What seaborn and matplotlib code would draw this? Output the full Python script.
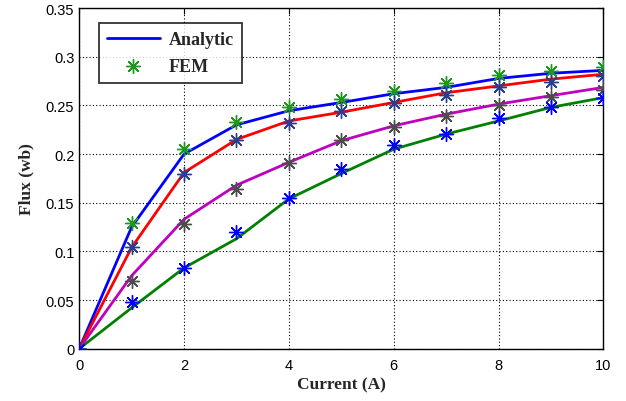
import numpy as np
import pandas as pd
import matplotlib
matplotlib.use("Agg")
import matplotlib.pyplot as plt
import seaborn as sns

# data
current = [0, 1, 2, 3, 4, 5, 6, 7, 8, 9, 10]

analytic_1 = [0, 0.125, 0.200, 0.230, 0.2445, 0.253, 0.262, 0.2685, 0.2777, 0.283, 0.286]
fem_1 = [0, 0.129, 0.205, 0.233, 0.248, 0.2565, 0.265, 0.273, 0.281, 0.285, 0.289]

analytic_2 = [0, 0.104, 0.181, 0.215, 0.234, 0.243, 0.253, 0.263, 0.270, 0.277, 0.282]
fem_2 = [0, 0.105, 0.180, 0.214, 0.232, 0.244, 0.252, 0.261, 0.2685, 0.274, 0.280]

analytic_3 = [0, 0.075, 0.133, 0.168, 0.1915, 0.2137, 0.229, 0.241, 0.2513, 0.260, 0.2685]
fem_3 = [0, 0.070, 0.128, 0.164, 0.191, 0.2144, 0.2274, 0.2393, 0.2506, 0.2588, 0.266]

analytic_4 = [0, 0.042, 0.083, 0.113, 0.154, 0.180, 0.205, 0.2205, 0.234, 0.248, 0.258]
fem_4 = [0, 0.0485, 0.0826, 0.120, 0.155, 0.185, 0.209, 0.221, 0.2366, 0.248, 0.258]

line_colors = ["#0000ff", "#ff0000", "#bf00bf", "#008000"]
marker_colors = ["#1f961f", "#2b3d8f", "#4d4d4d", "#0000ff"]

sns.set_style("white")
plt.rcParams["font.family"] = ["Liberation Sans", "DejaVu Sans"]

fig = plt.figure(figsize=(6.26, 4.02), dpi=100)
ax = fig.add_axes([0.1265, 0.130, 0.8375, 0.8475])

series = [(analytic_1, fem_1), (analytic_2, fem_2),
          (analytic_3, fem_3), (analytic_4, fem_4)]

asterisk = (8, 2, 0)

for i, (ana, fem) in enumerate(series):
    df = pd.DataFrame({"Current": current, "Analytic": ana, "FEM": fem})
    sns.lineplot(data=df, x="Current", y="Analytic", ax=ax,
                 color=line_colors[i], linewidth=2.0,
                 label="Analytic" if i == 0 else "_nolegend_")
    sns.scatterplot(data=df, x="Current", y="FEM", ax=ax,
                    marker=asterisk, s=100, color=marker_colors[i],
                    edgecolor=marker_colors[i], linewidth=1.0,
                    label="FEM" if i == 0 else "_nolegend_", zorder=3)

ax.set_xlim(0, 10)
ax.set_ylim(0, 0.35)
ax.set_xticks(np.arange(0, 11, 2))
ax.set_yticks(np.arange(0, 0.351, 0.05))
ax.set_yticklabels(["0", "0.05", "0.1", "0.15", "0.2", "0.25", "0.3", "0.35"])

ax.grid(True, color="black", linestyle=(0, (1, 2)), linewidth=0.8)
ax.tick_params(direction="in", length=4, width=0.8, labelsize=10.5,
               top=True, right=True, colors="black")
ax.tick_params(axis="x", pad=7)
for sp in ax.spines.values():
    sp.set_color("black")
    sp.set_linewidth(1.0)

ax.set_xlabel("Current (A)", fontsize=12.5, fontweight="bold",
              family="Liberation Serif", labelpad=3)
ax.set_ylabel("Flux (wb)", fontsize=12.5, fontweight="bold",
              family="Liberation Serif", labelpad=8)

leg = ax.legend(loc="upper left", bbox_to_anchor=(0.038, 0.956),
                borderaxespad=0,
                prop={"family": "Liberation Serif", "weight": "bold", "size": 13},
                frameon=True, fancybox=False, edgecolor="black",
                borderpad=0.45, handlelength=2.9, labelspacing=0.55,
                handletextpad=0.5)
leg.get_frame().set_linewidth(1.3)

fig.savefig("out.png", dpi=100)
